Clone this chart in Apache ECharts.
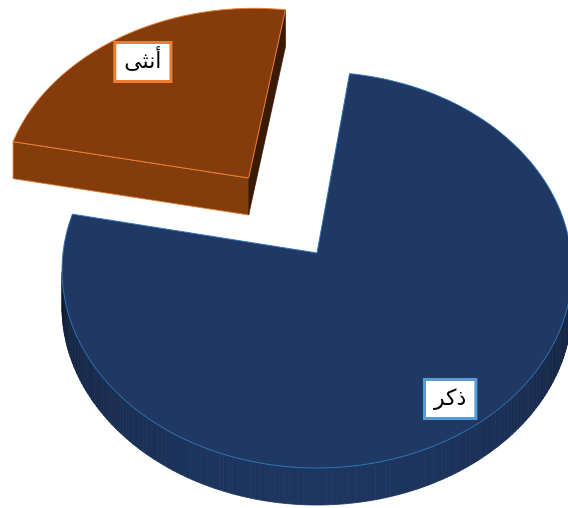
<!DOCTYPE html>
<html><head><meta charset="utf-8">
<script src="https://cdn.jsdelivr.net/npm/echarts@6/dist/echarts.min.js"></script>
<style>html,body{margin:0;padding:0;background:#fff}#chart{width:568px;height:508px}</style>
</head><body><div id="chart"></div>
<script>
// ---- data ----
const categories = ['ذكر', 'أنثى'];
const values = [76, 24];

// ---- styles / layout (not data) ----
const sliceColors = ['#1F3864', '#843C0C'];
const edgeColors = ['#2E75B6', '#ED7D31'];
const labelBorders = ['#5B9BD5', '#ED7D31'];
const explode = [0, 0.483];
const labelRadius = [0.855, 0.815];
const START_DEG = 8;
const VIEW = {cx: 317, cy: 253, rx: 254, ry: 196.5, k: 0.086, t: 37};

function proj(u, v, w) {
  const d = 1 - VIEW.k * v;
  return [VIEW.cx + VIEW.rx * u / d, VIEW.cy + VIEW.ry * v / d + VIEW.t * w];
}
function shade(hex, f) {
  const n = parseInt(hex.slice(1), 16);
  const r = Math.round(((n >> 16) & 255) * f), g = Math.round(((n >> 8) & 255) * f), b = Math.round((n & 255) * f);
  return 'rgb(' + r + ',' + g + ',' + b + ')';
}
function signedArea(p) {
  let s = 0;
  for (let i = 0; i < p.length; i++) { const a = p[i], b = p[(i + 1) % p.length]; s += a[0] * b[1] - b[0] * a[1]; }
  return s / 2;
}
function bright(nv) { return 0.32 + 0.68 * Math.sqrt(Math.max(0, nv)); }

const total = values.reduce((a, b) => a + b, 0);

function renderItem(params, api) {
  const i = params.dataIndex;
  const val = api.value(1);
  let before = 0;
  for (let j = 0; j < i; j++) before += values[j];
  const a0 = (START_DEG + before / total * 360) * Math.PI / 180;
  const a1 = a0 + val / total * 2 * Math.PI;
  const am = (a0 + a1) / 2;
  const ou = explode[i] * Math.sin(am), ov = -explode[i] * Math.cos(am);
  const P = (a, r, w) => proj(ou + r * Math.sin(a), ov - r * Math.cos(a), w);
  const zb = i === 0 ? 100 : 0;
  const base = sliceColors[i];
  const children = [];

  // radial face at a0
  const f0 = [P(a0, 0, 0), P(a0, 1, 0), P(a0, 1, 1), P(a0, 0, 1)];
  if (signedArea(f0) < 0) {
    const c = shade(base, bright(-Math.sin(a0)));
    children.push({type: 'polygon', z2: zb + 1, shape: {points: f0}, style: {fill: c, stroke: i === 1 ? edgeColors[i] : c, lineWidth: 0.8}});
  }
  // radial face at a1
  const f1 = [P(a1, 0, 0), P(a1, 0, 1), P(a1, 1, 1), P(a1, 1, 0)];
  if (signedArea(f1) < 0) {
    const c = shade(base, bright(Math.sin(a1)) * 0.75);
    children.push({type: 'polygon', z2: zb + 1, shape: {points: f1}, style: {fill: c, stroke: c, lineWidth: 0.8}});
  }
  // outer wall
  const steps = Math.ceil((a1 - a0) / (Math.PI / 180));
  for (let s = 0; s < steps; s++) {
    const t0 = a0 + (a1 - a0) * s / steps, t1 = a0 + (a1 - a0) * (s + 1) / steps;
    const q = [P(t0, 1, 0), P(t1, 1, 0), P(t1, 1, 1), P(t0, 1, 1)];
    if (signedArea(q) < 0) {
      const c = shade(base, bright(-Math.cos((t0 + t1) / 2)) * 0.95);
      children.push({type: 'polygon', z2: zb + 2, shape: {points: q}, style: {fill: c, stroke: c, lineWidth: 0.8}});
    }
  }
  // top face
  const top = [P(a0, 0, 0)];
  for (let s = 0; s <= steps; s++) top.push(P(a0 + (a1 - a0) * s / steps, 1, 0));
  children.push({type: 'polygon', z2: zb + 3, shape: {points: top}, style: {fill: base, stroke: edgeColors[i], lineWidth: 1}});

  // label
  const lp = P(am, labelRadius[i], 0);
  children.push({
    type: 'text', z2: 1000 + i, x: lp[0], y: lp[1],
    style: {
      text: categories[i], fill: '#000', font: '22px "DejaVu Sans", sans-serif',
      align: 'center', verticalAlign: 'middle',
      backgroundColor: '#fff', borderColor: labelBorders[i], borderWidth: 3,
      padding: [7, 8, 7, 8], boxShadowBlur: 8, boxShadowColor: 'rgba(0,0,0,0.4)'
    }
  });
  return {type: 'group', children};
}

const chart = echarts.init(document.getElementById('chart'));
chart.setOption({
  animation: false,
  backgroundColor: '#fff',
  series: [{
    type: 'custom', coordinateSystem: 'none', silent: true,
    renderItem,
    data: values.map((v, i) => [i, v])
  }]
});
</script></body></html>
